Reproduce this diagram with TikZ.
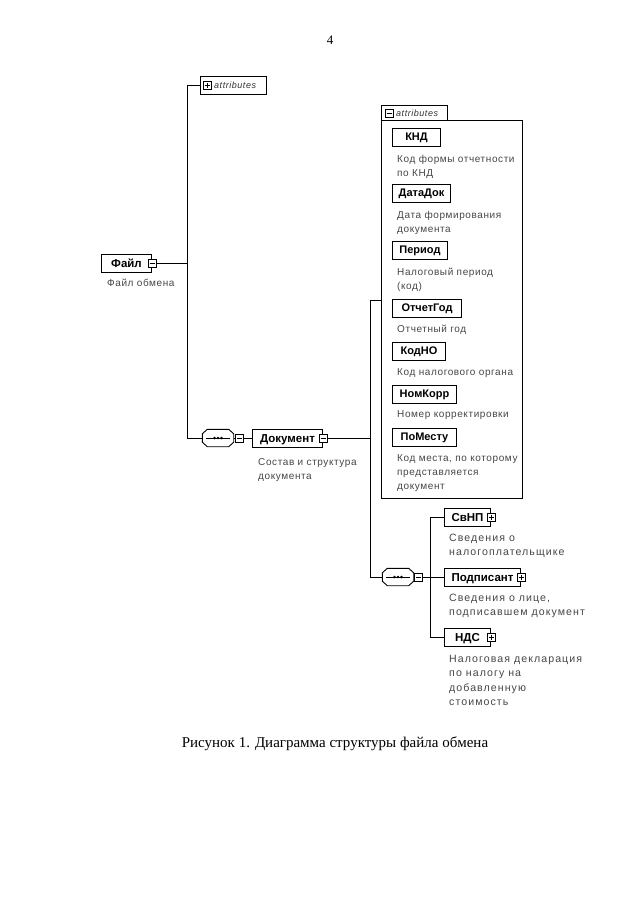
\documentclass[tikz,border=0pt]{standalone}
\usepackage{fontspec}
\setmainfont{Liberation Sans}
\newfontfamily\serifrm{Liberation Serif}
\newfontfamily\descfont[LetterSpace=6]{Liberation Sans}
\newfontfamily\descwfont[LetterSpace=10]{Liberation Sans}
\newcommand\drawseqsym[1]{%
  \draw[line width=0.9pt] ([xshift=5pt]#1.north west) -- ([xshift=-5pt]#1.north east) -- ([yshift=-4.5pt]#1.north east) -- ([yshift=4.5pt]#1.south east) -- ([xshift=-5pt]#1.south east) -- ([xshift=5pt]#1.south west) -- ([yshift=4.5pt]#1.south west) -- ([yshift=-4.5pt]#1.north west) -- cycle;
  \draw[line width=0.8pt] ([xshift=4pt]#1.west) -- ([xshift=-4pt]#1.east);
  \fill ([xshift=-3.6pt]#1.center) circle[radius=1.4pt] (#1.center) circle[radius=1.4pt] ([xshift=3.6pt]#1.center) circle[radius=1.4pt];}
\begin{document}
\begin{tikzpicture}[x=1pt,y=-1pt,
  conn/.style={line width=0.7pt},
  elbox/.style={draw, line width=1pt, fill=white, font=\bfseries\fontsize{11.5}{13}\selectfont, minimum height=18pt, inner sep=0pt, text height=8.2pt, text depth=0pt, anchor=west},
  attbox/.style={draw, line width=1pt, fill=white, font=\bfseries\fontsize{11}{13}\selectfont, minimum height=18pt, inner sep=0pt, text height=7.9pt, text depth=0pt, anchor=west},
  desc/.style={font=\descfont\fontsize{10}{14}\selectfont, text=black!72, align=left, anchor=north west, inner sep=0pt},
  descw/.style={font=\descwfont\fontsize{10.6}{14.3}\selectfont, text=black!72, align=left, anchor=north west, inner sep=0pt},
  ital/.style={font=\descfont\itshape\fontsize{9}{10}\selectfont, text=black!80, anchor=west, inner sep=0pt},
  minusico/.style={draw, fill=white, minimum size=8pt, inner sep=0pt, line width=0.6pt,
    path picture={\draw[line width=0.6pt] ([xshift=1.5pt]path picture bounding box.west) -- ([xshift=-1.5pt]path picture bounding box.east);}},
  plusico/.style={draw, fill=white, minimum size=8pt, inner sep=0pt, line width=0.6pt,
    path picture={\draw[line width=0.6pt] ([xshift=1.5pt]path picture bounding box.west) -- ([xshift=-1.5pt]path picture bounding box.east)
      ([yshift=1.5pt]path picture bounding box.south) -- ([yshift=-1.5pt]path picture bounding box.north);}},
  seqbox/.style={rectangle, minimum width=31pt, minimum height=17pt, inner sep=0pt},
]
\useasboundingbox (0,0) rectangle (640,905);
\fill[white] (0,0) rectangle (640,905);

% page number
\node[font=\serifrm\fontsize{13}{15}\selectfont] (pnum) at (330,40) {4};

% top attributes
\node[draw, line width=1pt, minimum width=66pt, minimum height=18pt, anchor=west, inner sep=0pt] (attr1) at (200,85) {};
\node[plusico] (attr1i) at (207,85) {};
\node[ital] (attr1t) at (214,85) {attributes};

% root
\node[elbox, minimum width=50pt] (fajl) at (101,263) {Файл\hspace{4pt}};
\node[minusico] (fajli) at (fajl.east) {};
\node[desc] (fajld) at (107,279) {Файл обмена};

\coordinate (t1a) at (187,85);
\coordinate (t1b) at (187,263);
\coordinate (t1c) at (187,438);
\draw[conn] (fajli.east) -- (t1b);
\draw[conn] (t1a) -- (t1c);
\draw[conn] (t1a) -- (attr1.west);

% sequence 1 + Документ
\node[seqbox] (seq1) at (218,438) {};
\drawseqsym{seq1}
\node[minusico] (seq1i) at (239,438) {};
\draw[conn] (t1c) -- (seq1.west);
\draw[conn] (seq1.east) -- (seq1i.west);
\node[elbox, minimum width=70pt] (dok) at (252,438) {Документ\hspace{4pt}};
\node[minusico] (doki) at (dok.east) {};
\draw[conn] (seq1i.east) -- (dok.west);
\node[desc] (dokd) at (258,458) {Состав и структура\\документа};

\coordinate (t2a) at (370,300);
\coordinate (t2b) at (370,438);
\coordinate (t2c) at (370,577);
\draw[conn] (doki.east) -- (t2b);
\draw[conn] (t2a) -- (t2c);

% attributes group
\node[draw, line width=0.8pt, minimum width=141pt, minimum height=378pt, anchor=north west, inner sep=0pt] (grp) at (381,120) {};
\node[draw, line width=0.8pt, fill=white, minimum width=66pt, minimum height=15pt, anchor=south west, inner sep=0pt] (gtab) at (381,120.4) {};
\node[minusico] (gtabi) at (389,113) {};
\node[ital] (gtabt) at (396,113) {attributes};
\draw[conn] (t2a) -- (t2a -| grp.west);

\node[attbox, minimum width=48pt] (knd) at (392,137) {КНД};
\node[desc] (kndd) at (397,155) {Код формы отчетности\\по КНД};
\node[attbox, minimum width=58pt] (datadok) at (392,193) {ДатаДок};
\node[desc] (datadokd) at (397,211) {Дата формирования\\документа};
\node[attbox, minimum width=55pt] (period) at (392,250) {Период};
\node[desc] (periodd) at (397,268) {Налоговый период\\(код)};
\node[attbox, minimum width=69pt] (otchgod) at (392,308) {ОтчетГод};
\node[desc] (otchgodd) at (397,325) {Отчетный год};
\node[attbox, minimum width=53pt] (kodno) at (392,351) {КодНО};
\node[desc] (kodnod) at (397,368) {Код налогового органа};
\node[attbox, minimum width=64pt] (nomkorr) at (392,394) {НомКорр};
\node[desc] (nomkorrd) at (397,410) {Номер корректировки};
\node[attbox, minimum width=64pt] (pomestu) at (392,437) {ПоМесту};
\node[desc] (pomestud) at (397,454) {Код места, по которому\\представляется\\документ};

% sequence 2
\node[seqbox] (seq2) at (398,577) {};
\drawseqsym{seq2}
\node[minusico] (seq2i) at (418,577) {};
\draw[conn] (t2c) -- (seq2.west);
\draw[conn] (seq2.east) -- (seq2i.west);
\coordinate (t3a) at (430,517);
\coordinate (t3b) at (430,577);
\coordinate (t3c) at (430,637);
\draw[conn] (seq2i.east) -- (t3b);
\draw[conn] (t3a) -- (t3c);

\node[elbox, minimum width=46pt] (svnp) at (444,517) {СвНП\hspace{4pt}};
\node[plusico] (svnpi) at (svnp.east) {};
\node[descw] (svnpd) at (449,534) {Сведения о\\налогоплательщике};
\node[elbox, minimum width=76pt] (podp) at (444,577) {Подписант\hspace{4pt}};
\node[plusico] (podpi) at (podp.east) {};
\node[descw] (podpd) at (449,594) {Сведения о лице,\\подписавшем документ};
\node[elbox, minimum width=46pt] (nds) at (444,637) {НДС\hspace{6pt}};
\node[plusico] (ndsi) at (nds.east) {};
\node[descw] (ndsd) at (449,655) {Налоговая декларация\\по налогу на\\добавленную\\стоимость};
\draw[conn] (t3a) -- (svnp.west);
\draw[conn] (t3b) -- (podp.west);
\draw[conn] (t3c) -- (nds.west);

% caption
\node[font=\serifrm\fontsize{15}{17}\selectfont] (cap) at (335,744) {Рисунок 1. Диаграмма структуры файла обмена};
\end{tikzpicture}
\end{document}
